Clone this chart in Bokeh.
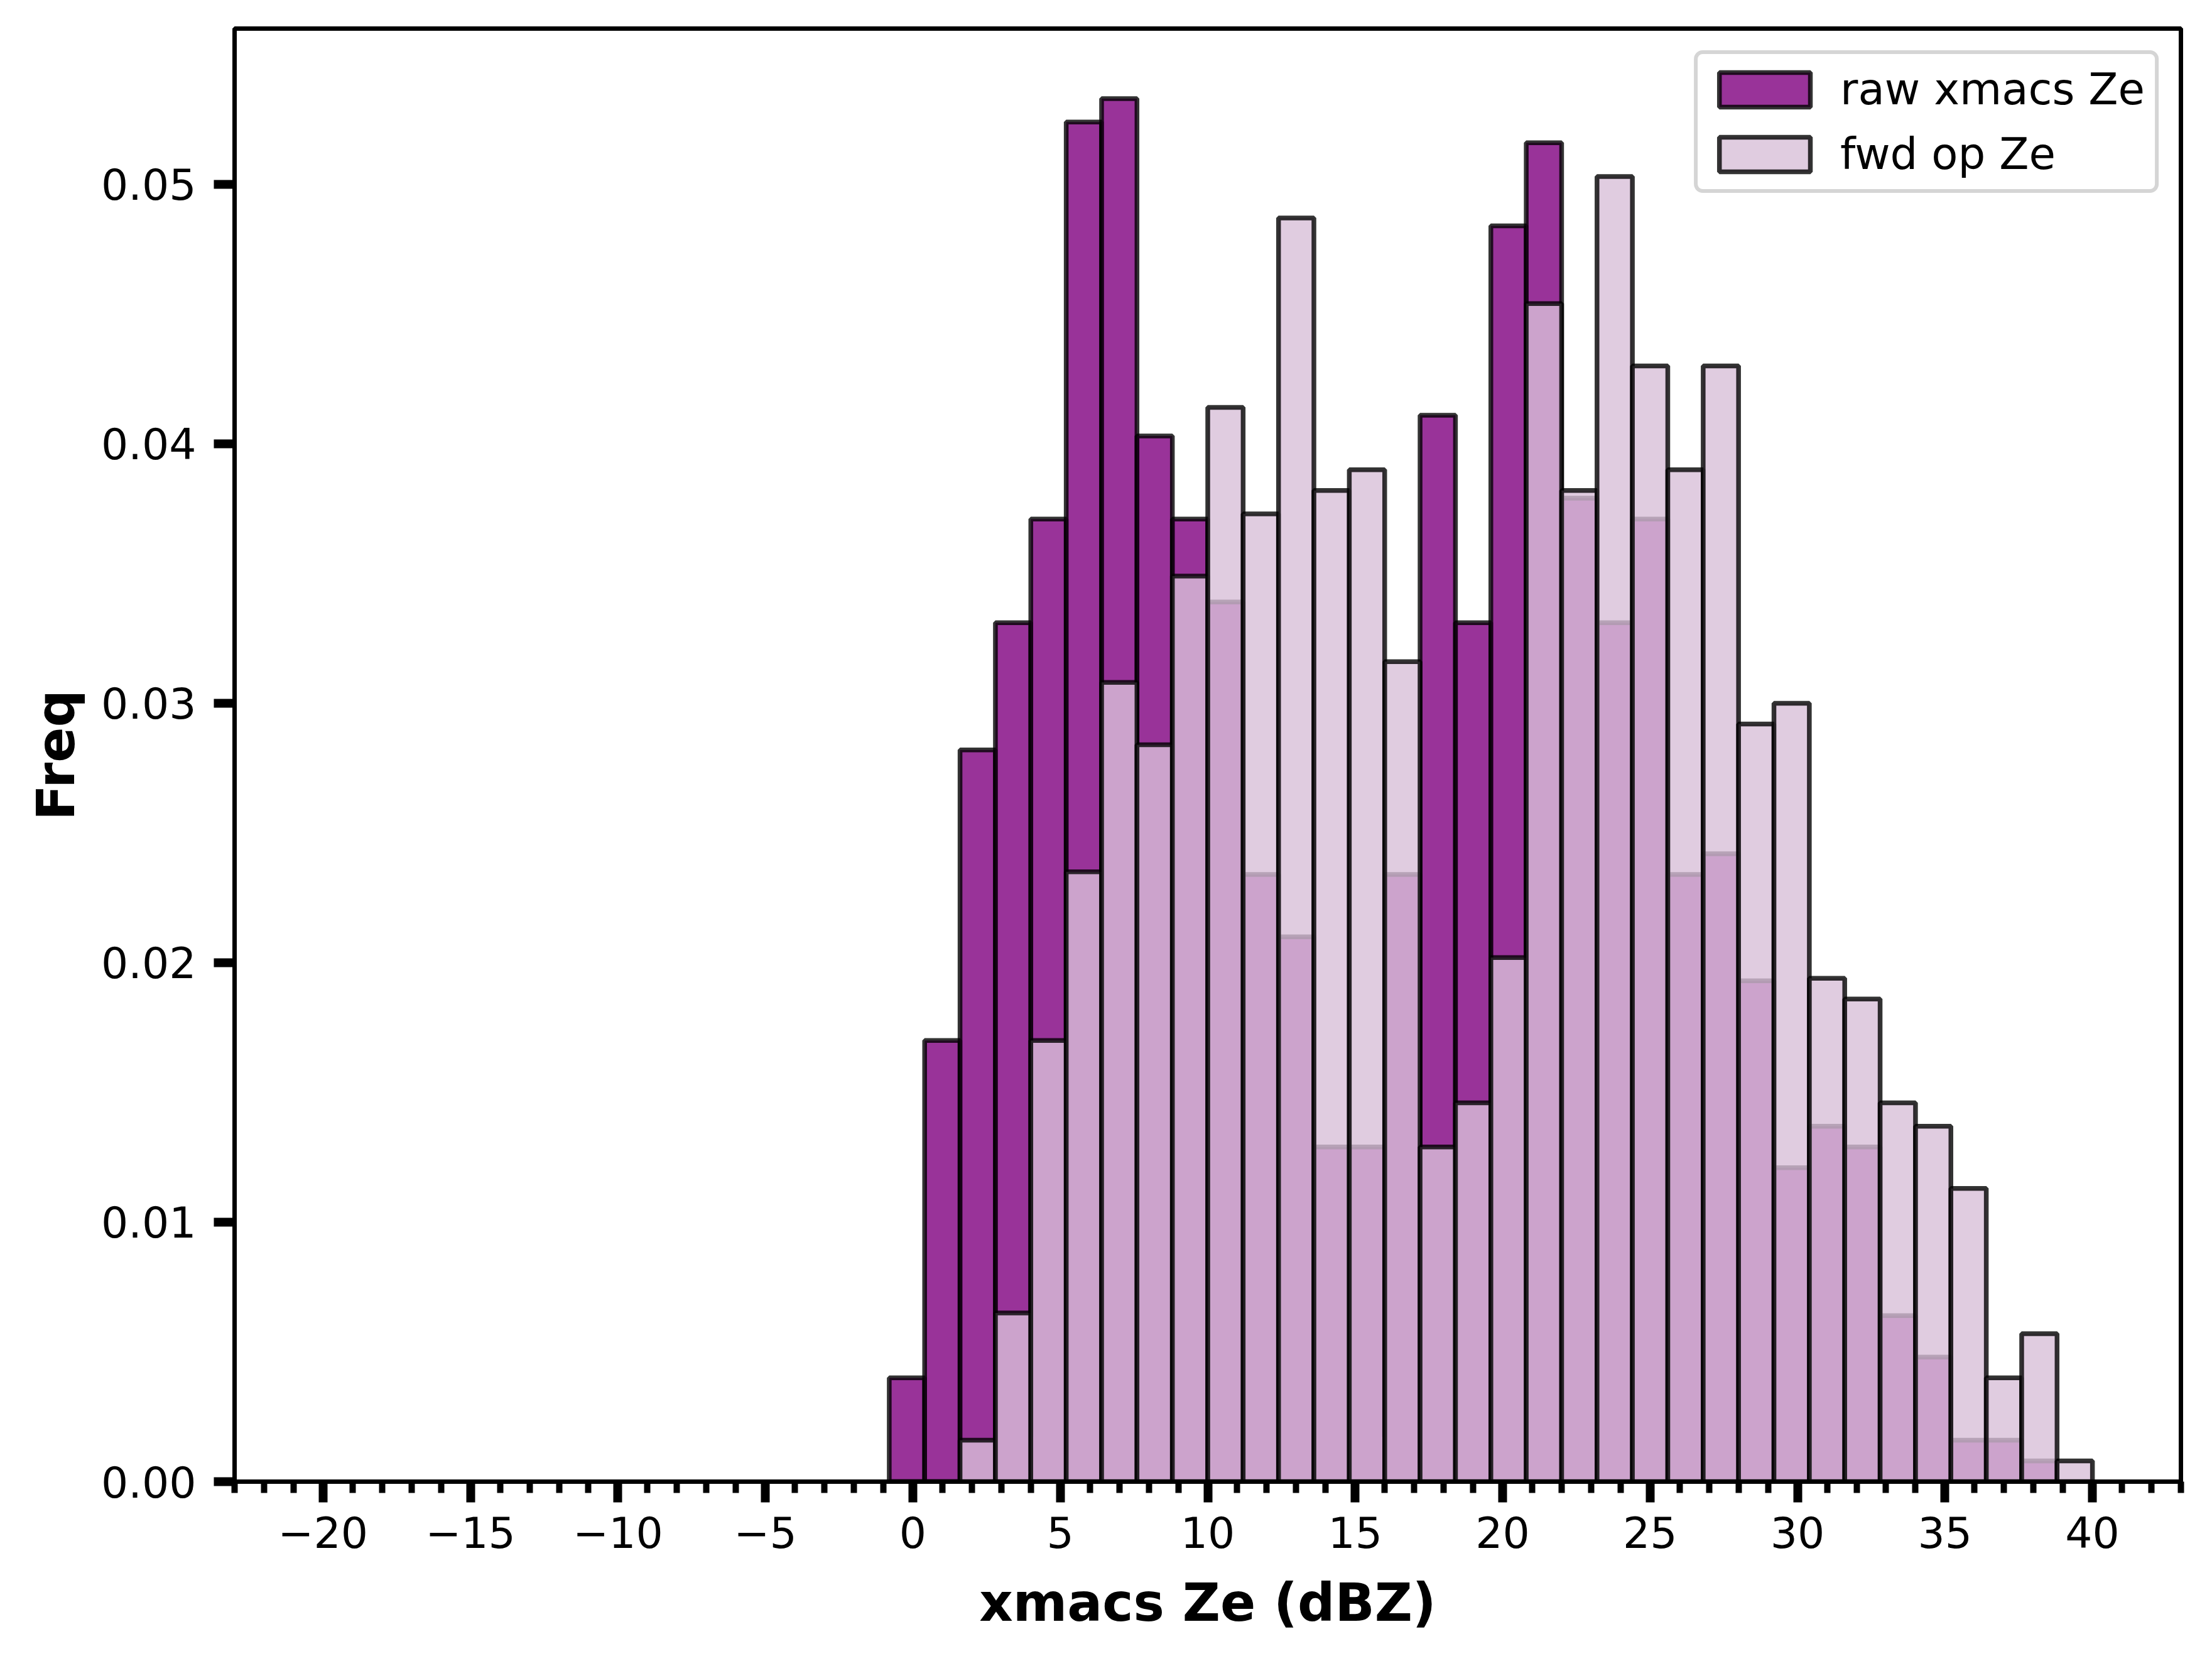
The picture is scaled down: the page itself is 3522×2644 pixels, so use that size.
import numpy as np
from bokeh.plotting import figure
from bokeh.models import (ColumnDataSource, Range1d, SingleIntervalTicker, FixedTicker,
                          PrintfTickFormatter, CustomJSTickFormatter)
from bokeh.embed import file_html
from bokeh.resources import INLINE

# ---- data (histogram densities) ----
bin_width = 1.2
bin_edges = np.round(np.arange(-0.8, 40.0 + 1e-9, bin_width), 2)   # 35 edges -> 34 bins

raw_xmacs_ze = [0.0040, 0.0170, 0.0282, 0.0331, 0.0371, 0.0524, 0.0533, 0.0403, 0.0371,
                0.0339, 0.0234, 0.0210, 0.0129, 0.0129, 0.0234, 0.0411, 0.0331, 0.0484,
                0.0516, 0.0379, 0.0331, 0.0371, 0.0234, 0.0242, 0.0193, 0.0121, 0.0137,
                0.0129, 0.0064, 0.0048, 0.0016, 0.0016, 0.0008, 0.0]

fwd_op_ze = [0.0, 0.0, 0.0016, 0.0065, 0.0170, 0.0235, 0.0308, 0.0284, 0.0349, 0.0414,
             0.0373, 0.0487, 0.0382, 0.0390, 0.0316, 0.0129, 0.0146, 0.0202, 0.0454,
             0.0382, 0.0503, 0.0430, 0.0390, 0.0430, 0.0292, 0.0300, 0.0194, 0.0186,
             0.0146, 0.0137, 0.0113, 0.0040, 0.0057, 0.0008]

y_ticks = [0.0, 0.01, 0.02, 0.03, 0.04, 0.05]
labels = ["raw xmacs Ze", "fwd op Ze"]

FONT = "DejaVu Sans"
BAR_LW = 7.5
AX_LW = 7

raw_src = ColumnDataSource(dict(left=bin_edges[:-1], right=bin_edges[1:],
                                top=raw_xmacs_ze, bottom=[0.0] * len(raw_xmacs_ze)))
fwd_src = ColumnDataSource(dict(left=bin_edges[:-1], right=bin_edges[1:],
                                top=fwd_op_ze, bottom=[0.0] * len(fwd_op_ze)))

p = figure(width=3506, height=2628,
           x_range=Range1d(-23, 43), y_range=Range1d(0, 0.056),
           output_backend="svg", toolbar_location=None,
           min_border_left=373, min_border_right=34,
           min_border_top=45, min_border_bottom=270)

p.background_fill_color = "white"
p.border_fill_color = "white"
p.xgrid.visible = False
p.ygrid.visible = False
p.outline_line_color = "black"
p.outline_line_width = AX_LW
p.outline_line_alpha = 1.0

p.quad(left="left", right="right", top="top", bottom="bottom", source=raw_src,
       fill_color="purple", fill_alpha=0.8, line_color="black", line_alpha=0.8,
       line_width=BAR_LW, legend_label=labels[0])
p.quad(left="left", right="right", top="top", bottom="bottom", source=fwd_src,
       fill_color="thistle", fill_alpha=0.8, line_color="black", line_alpha=0.8,
       line_width=BAR_LW, legend_label=labels[1])

# axes
for ax in (p.xaxis, p.yaxis):
    ax.axis_line_width = AX_LW
    ax.axis_line_color = "black"
    ax.major_tick_line_color = "black"
    ax.major_tick_line_width = 14
    ax.major_tick_out = 33
    ax.major_tick_in = 0
    ax.major_label_text_font = FONT
    ax.major_label_text_font_size = "68px"
    ax.major_label_text_color = "black"
    ax.axis_label_text_font = FONT
    ax.axis_label_text_font_size = "83px"
    ax.axis_label_text_font_style = "bold"
    ax.axis_label_text_color = "black"

p.xaxis.ticker = SingleIntervalTicker(interval=5, num_minor_ticks=5)
p.xaxis.formatter = CustomJSTickFormatter(
    code='return tick < 0 ? "\u2212" + Math.abs(tick) : String(tick);')
p.xaxis.minor_tick_line_color = "black"
p.xaxis.minor_tick_line_width = 10
p.xaxis.minor_tick_out = 18
p.xaxis.minor_tick_in = 0
p.xaxis.major_label_standoff = 22
p.xaxis.axis_label = "xmacs Ze (dBZ)"
p.xaxis.axis_label_standoff = 36

p.yaxis.ticker = FixedTicker(ticks=y_ticks, minor_ticks=[])
p.yaxis.formatter = PrintfTickFormatter(format="%.2f")
p.yaxis.minor_tick_line_color = None
p.yaxis.major_label_standoff = 28
p.yaxis.axis_label = "Freq"
p.yaxis.axis_label_standoff = 20

# legend
lg = p.legend[0]
lg.location = "top_right"
lg.margin = 35
lg.padding = 16
lg.spacing = 23
lg.glyph_width = 181
lg.glyph_height = 69
lg.label_standoff = 30
lg.label_text_font = FONT
lg.label_text_font_size = "69px"
lg.label_text_color = "black"
lg.border_line_color = "#d5d5d5"
lg.border_line_width = 6
lg.border_line_alpha = 1.0
lg.background_fill_color = "white"
lg.background_fill_alpha = 0.8
if "border_radius" in lg.properties():
    lg.border_radius = 14

open("out.html", "w").write(file_html(p, INLINE))
